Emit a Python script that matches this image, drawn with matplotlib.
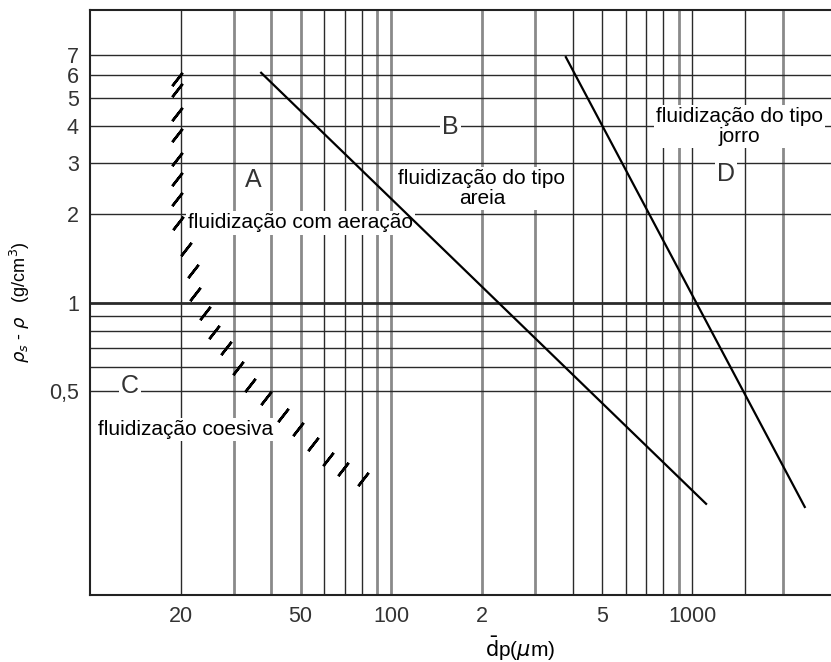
import numpy as np
import matplotlib.pyplot as plt

# Geldart-type diagram (log-log): particle diameter vs density difference
x_grid = [20, 30, 40, 50, 60, 70, 80, 90, 100, 200, 300, 400, 500, 600, 700,
          800, 900, 1000, 1500, 2000]
x_grid_light = [30, 40, 50, 90, 100, 200, 300, 900, 2000]
y_grid = [0.5, 0.6, 0.7, 0.8, 0.9, 1, 2, 3, 4, 5, 6, 7]

x_ticks = [20, 50, 100, 200, 500, 1000]
x_tick_labels = ['20', '50', '100', '2', '5', '1000']
y_ticks = [0.5, 1, 2, 3, 4, 5, 6, 7]
y_tick_labels = ['0,5', '1', '2', '3', '4', '5', '6', '7']

# A/B boundary and B/D boundary
ab_x = [37, 1110]
ab_y = [6.1, 0.205]
bd_x = [380, 2360]
bd_y = [6.9, 0.20]

# hatched C/A boundary (mark centres)
hatch_x = [19.5, 19.5, 19.5, 19.5, 19.5, 19.5, 19.5, 19.6, 20.8, 21.9, 22.3,
           24.0, 25.9, 28.3, 31.0, 34.0, 38.4, 43.8, 49.1, 55.1, 61.8, 69.3, 80.9]
hatch_y = [5.83, 5.31, 4.41, 3.74, 3.10, 2.65, 2.25, 1.87, 1.52, 1.28, 1.07,
           0.918, 0.791, 0.698, 0.597, 0.523, 0.473, 0.414, 0.368, 0.328, 0.291,
           0.270, 0.249]

plt.rcParams['font.family'] = ['Liberation Sans', 'DejaVu Sans']

fig = plt.figure(figsize=(8.31, 6.62), dpi=100)
ax = fig.add_axes([0.1083, 0.1012, 0.8917, 0.8837])
ax.set_xscale('log')
ax.set_yscale('log')
ax.set_xlim(10, 2884)
ax.set_ylim(0.1, 10)

for xv in x_grid:
    if xv in x_grid_light:
        ax.axvline(xv, color='#8a8a8a', lw=2.0, zorder=1)
    else:
        ax.axvline(xv, color='#2a2a2a', lw=1.0, zorder=1)
for yv in y_grid:
    ax.axhline(yv, color='#2a2a2a', lw=2.0 if yv == 1 else 1.0, zorder=1)

ax.plot(ab_x, ab_y, color='black', lw=1.6, zorder=3)
ax.plot(bd_x, bd_y, color='black', lw=1.6, zorder=3)
ax.plot(hatch_x, hatch_y, linestyle='none', marker=(2, 2, -38),
        markersize=12, markeredgewidth=1.8, color='black', zorder=4)

box = dict(facecolor='white', edgecolor='none', pad=1.5)
big = dict(fontsize=18, color='#333333', ha='center', va='center', zorder=2)
small = dict(fontsize=15, color='black', zorder=2)

ax.text(34.8, 2.63, 'A', **big)
ax.text(157, 3.98, 'B', bbox=box, **big)
ax.text(13.6, 0.519, 'C', bbox=box, **big)
ax.text(1288, 2.76, 'D', bbox=box, **big)

ax.text(21.1, 1.87, 'fluidização com aeração', ha='left', va='center',
        bbox=box, **small)
ax.text(200, 2.45, 'fluidização do tipo\nareia', ha='center', va='center',
        linespacing=1.05, bbox=box, **small)
ax.text(1435, 4.0, 'fluidização do tipo\njorro', ha='center', va='center',
        linespacing=1.05, bbox=box, **small)
ax.text(10.6, 0.368, 'fluidização coesiva', ha='left', va='center',
        bbox=box, **small)

ax.set_xticks(x_ticks)
ax.set_xticklabels(x_tick_labels)
ax.set_yticks(y_ticks)
ax.set_yticklabels(y_tick_labels)
ax.minorticks_off()
ax.tick_params(length=0, labelsize=15.5, labelcolor='#333333', pad=8)

ax.set_xlabel(r'$\bar{\mathrm{d}}$p($\mu$m)', fontsize=15)
ax.xaxis.set_label_coords(0.58, -0.068)
ax.set_ylabel(r'$\rho_s$ - $\rho$   (g/cm$^3$)', fontsize=13)
ax.yaxis.set_label_coords(-0.078, 0.5)

ax.spines['right'].set_visible(False)
for s in ['left', 'top', 'bottom']:
    ax.spines[s].set_color('#222222')
    ax.spines[s].set_linewidth(1.5)

fig.savefig('out.png', dpi=100)
